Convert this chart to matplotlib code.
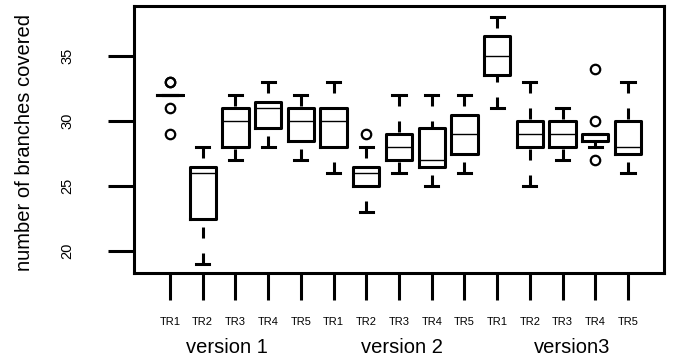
import matplotlib
matplotlib.use("Agg")
import matplotlib.pyplot as plt
import matplotlib.transforms as mtransforms

plt.rcParams['font.family'] = ['Liberation Sans', 'DejaVu Sans']

# ---- data ----
tick_labels = ["TR1", "TR2", "TR3", "TR4", "TR5"] * 3
group_labels = ["version 1", "version 2", "version3"]
group_centers = [2.74, 8.09, 13.29]

whislo = [32, 19, 27, 28, 27,   26, 23, 26, 25, 26,   31, 25, 27, 28, 26]
q1     = [32, 22.5, 28, 29.5, 28.5, 28, 25, 27, 26.5, 27.5, 33.5, 28, 28, 28.5, 27.5]
med    = [32, 26, 30, 31, 30,   30, 26, 28, 27, 29,   35, 29, 29, 29, 28]
q3     = [32, 26.5, 31, 31.5, 31, 31, 26.5, 29, 29.5, 30.5, 36.5, 30, 30, 29, 30]
whishi = [32, 28, 32, 33, 32,   33, 28, 32, 32, 32,   38, 33, 31, 29, 33]
fliers = [[33, 33, 31, 29], [], [], [], [],
          [], [29], [], [], [],
          [], [], [], [34, 30, 27], []]
y_ticks = [20, 25, 30, 35]

stats = []
for i in range(len(tick_labels)):
    stats.append(dict(whislo=whislo[i], q1=q1[i], med=med[i], q3=q3[i],
                      whishi=whishi[i], fliers=fliers[i]))

fig = plt.figure(figsize=(6.74, 3.6), dpi=100)
ax = fig.add_axes([134 / 674, 1 - 273 / 360, 530 / 674, 267 / 360])

positions = list(range(1, len(stats) + 1))
lw = 2.2
parts = ax.bxp(stats, positions=positions, widths=0.8, capwidths=0.4,
               boxprops=dict(color='black', linewidth=lw),
               medianprops=dict(color='black', linewidth=1.0),
               whiskerprops=dict(color='black', linewidth=lw, linestyle=(0, (3.6, 4.9))),
               capprops=dict(color='black', linewidth=lw),
               flierprops=dict(marker='o', markerfacecolor='none', markeredgecolor='black',
                               markersize=6.8, markeredgewidth=1.6, linestyle='none'),
               manage_ticks=False)
# dash pattern starts at the whisker end (cap), as in R
for wl in parts['whiskers']:
    xd, yd = wl.get_data()
    wl.set_data(list(xd)[::-1], list(yd)[::-1])
    wl.set_dash_capstyle('butt')

ax.set_xlim(-0.1, 16.1)
ax.set_ylim(18.308, 38.846)

ax.set_xticks(positions)
ax.set_xticklabels(tick_labels, fontsize=8)
ax.set_yticks(y_ticks)
ax.set_yticklabels([str(v) for v in y_ticks], fontsize=10.5, rotation=90, va='center')

ax.tick_params(axis='x', direction='out', length=19.4, width=lw, pad=12)
ax.tick_params(axis='y', direction='out', length=19, width=lw, pad=24)

for sp in ax.spines.values():
    sp.set_linewidth(lw)
    sp.set_color('black')

ax.text(-0.2057, 0.49, "number of branches covered", transform=ax.transAxes,
        rotation=90, ha='center', va='center', fontsize=14.5)

trans = mtransforms.blended_transform_factory(ax.transData, ax.transAxes)
for name, cx in zip(group_labels, group_centers):
    ax.text(cx, -0.30, name, transform=trans, ha='center', va='baseline',
            fontsize=14.5)

fig.savefig("out.png", dpi=100)
